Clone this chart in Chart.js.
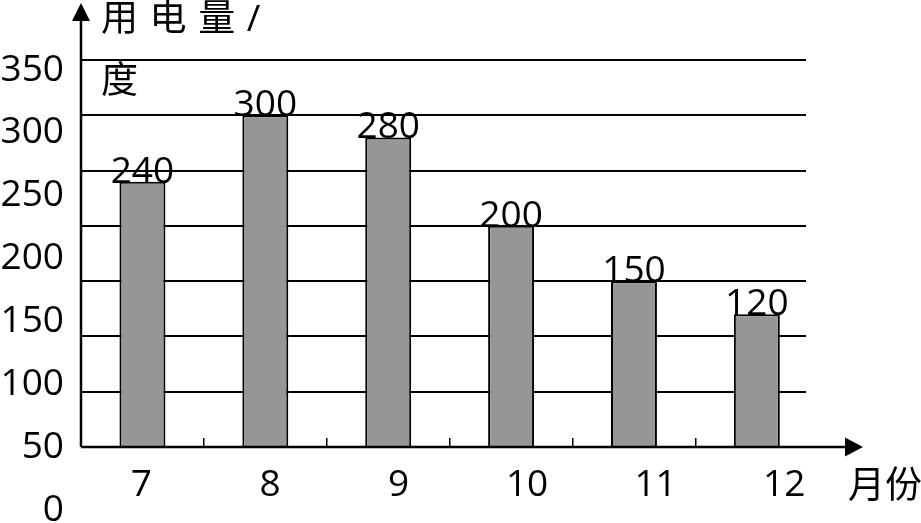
<!DOCTYPE html>
<html>
<head>
<meta charset="utf-8">
<script src="https://cdn.jsdelivr.net/npm/chart.js@4"></script>
<style>
  html, body { margin: 0; padding: 0; background: #fff; }
  #wrap { width: 921px; height: 523px; }
</style>
</head>
<body>
<div id="wrap"><canvas id="chart"></canvas></div>
<script>
// values
var months = [7, 8, 9, 10, 11, 12];
var usage = [240, 300, 280, 200, 150, 120];
var yTicks = [0, 50, 100, 150, 200, 250, 300, 350];
var yTitle = ['用 电 量 /', '度'];
var xTitle = '月份';

var FONT = "'Open Sans', 'Noto Sans CJK SC', sans-serif";
Chart.defaults.font.family = FONT;
Chart.defaults.font.size = 37;
Chart.defaults.color = '#000';

function noPad(scale) {
    scale.paddingTop = 0;
    scale.paddingBottom = 0;
    scale.paddingLeft = 0;
    scale.paddingRight = 0;
}

function fixedTicks(list) {
    return function (axis) {
        axis.ticks = list.map(v => ({ value: v }));
    };
}

// axis lines with arrows, value labels and the axis titles
var decor = {
    id: 'decor',
    afterDatasetsDraw: function (chart) {
        var ctx = chart.ctx;
        var x0 = chart.chartArea.left;
        var y0 = chart.scales.y.getPixelForValue(0);
        ctx.save();
        ctx.strokeStyle = '#000';
        ctx.fillStyle = '#000';
        ctx.lineWidth = 2.5;

        ctx.beginPath();
        ctx.moveTo(x0, y0);
        ctx.lineTo(x0, 16);
        ctx.stroke();
        ctx.beginPath();
        ctx.moveTo(x0, 3);
        ctx.lineTo(x0 - 9, 21);
        ctx.lineTo(x0 + 9, 21);
        ctx.closePath();
        ctx.fill();

        ctx.beginPath();
        ctx.moveTo(x0, y0);
        ctx.lineTo(848, y0);
        ctx.stroke();
        ctx.beginPath();
        ctx.moveTo(863, y0);
        ctx.lineTo(845, y0 - 9.5);
        ctx.lineTo(845, y0 + 9.5);
        ctx.closePath();
        ctx.fill();

        ctx.font = '37px ' + FONT;
        ctx.textAlign = 'center';
        ctx.textBaseline = 'alphabetic';
        chart.getDatasetMeta(0).data.forEach(function (bar, i) {
            ctx.fillText(usage[i], bar.x, bar.y + 1);
        });

        ctx.textAlign = 'left';
        ctx.textBaseline = 'middle';
        ctx.letterSpacing = '1px';
        ctx.fillText(yTitle[0], x0 + 20, 20);
        ctx.letterSpacing = '0px';
        ctx.fillText(yTitle[1], x0 + 20, 82);
        ctx.fillText(xTitle, 848, 487);
        ctx.restore();
    }
};

new Chart(document.getElementById('chart'), {
    type: 'bar',
    data: {
        datasets: [{
            data: months.map((m, i) => ({ x: m, y: usage[i] })),
            backgroundColor: '#969696',
            borderColor: '#000000',
            borderWidth: 2,
            barPercentage: 0.374,
            categoryPercentage: 1
        }]
    },
    options: {
        responsive: true,
        maintainAspectRatio: false,
        animation: false,
        layout: { padding: { top: 20, bottom: 5, left: 0, right: 115 } },
        plugins: {
            legend: { display: false },
            tooltip: { enabled: false }
        },
        scales: {
            x: {
                type: 'linear',
                position: { y: 0 },
                offset: false,
                min: 6.5,
                max: 12.4,
                afterBuildTicks: fixedTicks(months),
                ticks: { display: false },
                grid: {
                    offset: true,
                    drawOnChartArea: false,
                    drawTicks: true,
                    tickLength: -9,
                    color: '#000',
                    lineWidth: 1.5
                },
                border: { display: false },
                afterFit: noPad
            },
            // month labels sit on a slightly wider spacing than the bars
            xl: {
                type: 'linear',
                position: { y: 0 },
                offset: false,
                min: 6.53,
                max: 12.17,
                afterBuildTicks: fixedTicks(months),
                ticks: { padding: 16, maxRotation: 0, autoSkip: false },
                grid: { display: false, drawTicks: false },
                border: { display: false },
                afterFit: noPad
            },
            y: {
                type: 'linear',
                position: 'left',
                min: -64.21,
                max: 386.18,
                afterBuildTicks: fixedTicks(yTicks),
                ticks: { display: false },
                grid: { color: '#000', lineWidth: 2, drawTicks: false },
                border: { display: false },
                afterFit: function (s) { noPad(s); s.width = 0; }
            },
            // value labels on the left are spaced wider than the grid lines
            yl: {
                type: 'linear',
                position: 'left',
                min: -6.36,
                max: 389.77,
                afterBuildTicks: fixedTicks(yTicks),
                ticks: { padding: 17, autoSkip: false },
                grid: { display: false, drawTicks: false },
                border: { display: false },
                afterFit: function (s) { noPad(s); s.width = 81; }
            }
        }
    },
    plugins: [decor]
});
</script>
</body>
</html>
